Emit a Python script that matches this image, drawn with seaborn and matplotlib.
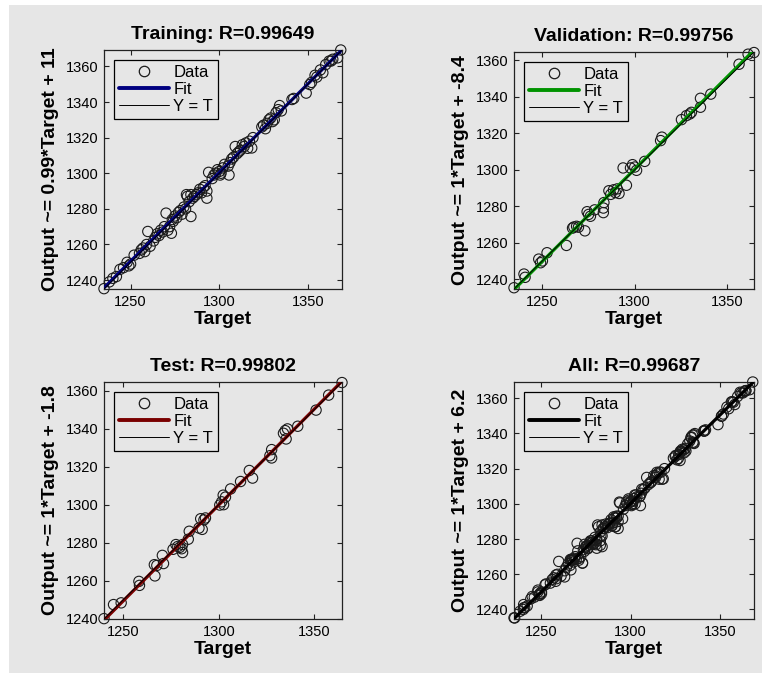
import numpy as np
import pandas as pd
import matplotlib
matplotlib.use("Agg")
import matplotlib.pyplot as plt
from matplotlib.patches import Rectangle
from matplotlib.lines import Line2D
import seaborn as sns

# ---------------- data ----------------
train_target = [1235, 1238, 1240, 1242, 1244, 1246, 1248, 1249, 1250, 1252, 1255, 1256, 1257, 1258,
                1259, 1259.7, 1261, 1263, 1264, 1265, 1266, 1267, 1268, 1269, 1270, 1271, 1272, 1273,
                1273.5, 1274, 1275, 1276, 1277, 1278, 1279, 1280, 1281, 1281.5, 1282, 1283, 1284, 1284,
                1285, 1286, 1287, 1288, 1289, 1290, 1291, 1292, 1293, 1293, 1294, 1296, 1297, 1298,
                1299, 1300, 1300.5, 1301, 1302, 1303, 1305, 1305.5, 1306, 1307, 1308, 1309, 1310, 1311,
                1312, 1313, 1314, 1315, 1316, 1317, 1318.3, 1319, 1324, 1325, 1326, 1327, 1328, 1329,
                1330, 1331, 1332, 1333.2, 1334, 1335, 1341, 1342, 1349, 1351, 1352, 1354, 1355, 1357,
                1358.4, 1360, 1362, 1363, 1364, 1366.7, 1368.5]
train_output = [1235.2, 1239, 1241, 1242, 1246, 1247, 1250, 1248, 1249, 1254, 1255, 1257, 1258, 1256,
                1260, 1267.3, 1259, 1262, 1264, 1266, 1265, 1268, 1267, 1270, 1277.6, 1268, 1270, 1266.3,
                1274, 1273, 1276, 1275, 1278, 1279, 1277, 1281, 1280, 1288, 1287, 1284, 1275.7, 1288,
                1286, 1287, 1288, 1289, 1291, 1289, 1292, 1293, 1290, 1286, 1300.5, 1297, 1299, 1300,
                1302, 1301, 1299, 1300, 1303, 1305, 1304, 1299, 1306, 1308, 1309, 1315, 1311, 1312,
                1313, 1316, 1315, 1317, 1314, 1318, 1314.2, 1320, 1326, 1327, 1325, 1328, 1330, 1331,
                1329, 1330, 1334, 1335.7, 1338, 1335, 1341.4, 1342, 1345, 1349.8, 1351, 1355, 1354, 1358,
                1356.4, 1361, 1363, 1363, 1364, 1364.8, 1369.2]

val_target = [1234.6, 1240, 1240.6, 1248, 1249, 1250, 1252.5, 1263, 1266.3, 1267, 1268.5, 1269.5,
              1273, 1274.2, 1275, 1276, 1278.3, 1283, 1283, 1283.3, 1286, 1287, 1288.5, 1289.5, 1290.5,
              1291.5, 1295.5, 1293.7, 1297.7, 1298.8, 1300, 1301, 1305.4, 1314, 1314.7, 1325.3, 1328,
              1329.8, 1330.7, 1335.6, 1335.6, 1341.2, 1356.5, 1361.4, 1364.6]
val_output = [1235.3, 1242.8, 1241, 1251, 1249, 1250, 1254.5, 1258.5, 1268, 1268.6, 1269, 1268.5,
              1266.5, 1277, 1275.5, 1274.5, 1278, 1279, 1276.5, 1282, 1288.5, 1286.5, 1289, 1287.5, 1289.5,
              1287, 1291.5, 1301, 1301, 1302.8, 1301.5, 1299.7, 1304.6, 1316, 1317.9, 1327.5, 1329.7,
              1330.6, 1331.5, 1334.3, 1339.2, 1341.5, 1357.9, 1363.4, 1364.3]

test_target = [1239.8, 1244.8, 1248.8, 1258.1, 1258.4, 1266.2, 1266.5, 1267.5, 1270.4, 1271, 1276,
               1277.5, 1278.5, 1279.5, 1280.5, 1281, 1281, 1284, 1284.5, 1289.6, 1290.5, 1291.3, 1292.2,
               1293, 1300.5, 1301.5, 1302.3, 1303.5, 1302.5, 1306.2, 1311.4, 1316, 1317.7, 1326.8,
               1327.7, 1327.7, 1333.9, 1334.8, 1335.3, 1336, 1341.4, 1351, 1357.6, 1364.6]
test_output = [1240, 1247.4, 1248.3, 1259.6, 1257.5, 1268.4, 1262.5, 1268, 1273.3, 1269, 1276.5,
               1279, 1278, 1277.5, 1276.8, 1279, 1274.8, 1281.8, 1286, 1287.7, 1292.6, 1287, 1292,
               1293, 1299.8, 1301.5, 1305, 1304, 1300, 1308.3, 1312.2, 1318, 1314, 1325.8,
               1324.6, 1329, 1337.6, 1339, 1334.6, 1339.9, 1341.3, 1349.8, 1357.7, 1364.3]

panel_titles = ["Training: R=0.99649", "Validation: R=0.99756", "Test: R=0.99802", "All: R=0.99687"]
panel_ylabels = ["Output ~= 0.99*Target + 11", "Output ~= 1*Target + -8.4",
                 "Output ~= 1*Target + -1.8", "Output ~= 1*Target + 6.2"]
fit_colors = ["#000080", "#009300", "#7a0000", "#000000"]
x_ticks = [1250, 1300, 1350]
y_ticks = [1240, 1260, 1280, 1300, 1320, 1340, 1360]

# ---------------- style ----------------
sns.set_theme(style="ticks")
plt.rcParams["font.family"] = ["Liberation Sans", "DejaVu Sans"]
plt.rcParams["text.color"] = "black"
plt.rcParams["axes.labelcolor"] = "black"
plt.rcParams["axes.titlecolor"] = "black"
plt.rcParams["axes.edgecolor"] = "#222222"
plt.rcParams["xtick.color"] = "#222222"
plt.rcParams["ytick.color"] = "#222222"
plt.rcParams["xtick.labelcolor"] = "black"
plt.rcParams["ytick.labelcolor"] = "black"
BG = "#e6e6e6"

sets = [
    (train_target, train_output),
    (val_target, val_output),
    (test_target, test_output),
    (train_target + val_target + test_target, train_output + val_output + test_output),
]

W, H = 762, 675
fig = plt.figure(figsize=(W / 100, H / 100), dpi=100)
fig.patch.set_facecolor("white")
fig.patches.append(Rectangle((9 / W, 2 / H), 1 - 9 / W, 668 / H,
                             transform=fig.transFigure, facecolor=BG, edgecolor="none", zorder=-10))

rects = [
    (104, 50, 238, 239),
    (514, 52, 240, 237),
    (104, 382, 238, 237),
    (514, 382, 240, 237),
]

for i, ((t, o), (lx, ty, w, h)) in enumerate(zip(sets, rects)):
    ax = fig.add_axes([lx / W, 1 - (ty + h) / H, w / W, h / H])
    ax.set_facecolor(BG)
    t = np.asarray(t, float)
    o = np.asarray(o, float)
    lo = min(t.min(), o.min())
    hi = max(t.max(), o.max())
    df = pd.DataFrame({"Target": t, "Output": o})
    sns.scatterplot(data=df, x="Target", y="Output", ax=ax, marker="o", s=55,
                    facecolors="none", edgecolors="#1a1a1a", linewidth=0.8, zorder=2,
                    clip_on=False, legend=False)
    slope, icpt = np.polyfit(t, o, 1)
    ends = np.array([lo, hi])
    ax.plot(ends, slope * ends + icpt, color=fit_colors[i], lw=2.3, zorder=3, solid_capstyle="butt")
    ax.plot(ends, ends, color="black", lw=0.7, zorder=4)
    ax.set_xlim(lo, hi)
    ax.set_ylim(lo, hi)
    ax.set_xticks(x_ticks)
    ax.set_yticks(y_ticks)
    ax.tick_params(direction="in", length=3.5, width=0.8, labelsize=10.5, pad=4,
                   top=True, right=True)
    for sp in ax.spines.values():
        sp.set_linewidth(0.9)
        sp.set_visible(True)
    ax.set_title(panel_titles[i], fontsize=14, fontweight="bold", pad=8)
    ax.set_xlabel("Target", fontsize=14, fontweight="bold", labelpad=2)
    ax.set_ylabel(panel_ylabels[i], fontsize=14, fontweight="bold", labelpad=5)

    handles = [
        Line2D([], [], ls="none", marker="o", markersize=7.5, markerfacecolor="none",
               markeredgecolor="#1a1a1a", markeredgewidth=0.9),
        Line2D([], [], color=fit_colors[i], lw=2.8),
        Line2D([], [], color="black", lw=0.7),
    ]
    leg = ax.legend(handles, ["Data", "Fit", "Y = T"], loc="upper left", fontsize=12,
                    frameon=True, fancybox=False, framealpha=1, edgecolor="black",
                    facecolor=BG, handlelength=3.0, handletextpad=0.25, labelspacing=0.12,
                    borderpad=0.3, borderaxespad=0.6)
    leg.get_frame().set_linewidth(0.9)

fig.savefig("out.png", dpi=100, facecolor=fig.get_facecolor())
